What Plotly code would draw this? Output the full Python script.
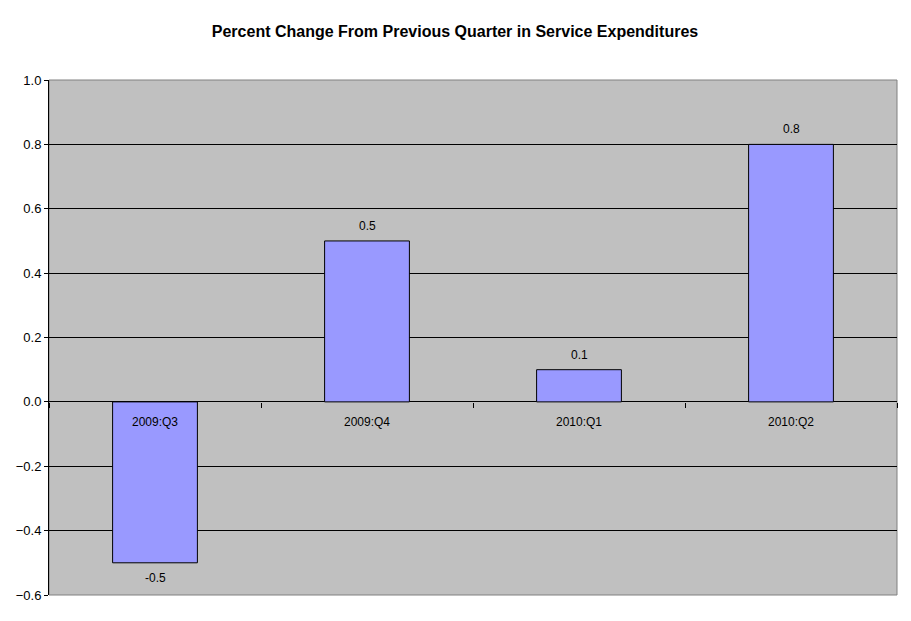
import plotly.graph_objects as go

categories = ["2009:Q3", "2009:Q4", "2010:Q1", "2010:Q2"]
values = [-0.5, 0.5, 0.1, 0.8]
y_ticks = [-0.6, -0.4, -0.2, 0.0, 0.2, 0.4, 0.6, 0.8, 1.0]

# page body has an 8px margin, so the figure is sized/offset to compensate
W, H = 903, 613

fig = go.Figure()
fig.add_trace(go.Bar(
    x=categories, y=values,
    width=0.4,
    marker=dict(color="#9999FF", line=dict(color="black", width=1)),
    hoverinfo="skip",
))

# value labels above/below bars
for c, v in zip(categories, values):
    fig.add_annotation(x=c, y=v, text=f"{v:.1f}", showarrow=False,
                       yshift=15 if v >= 0 else -15,
                       font=dict(family="Arial, Liberation Sans", size=12, color="black"))

fig.update_layout(
    width=W, height=H,
    margin=dict(l=41, r=14, t=72, b=26),
    paper_bgcolor="white",
    plot_bgcolor="#C0C0C0",
    showlegend=False,
    title=dict(text="<b>Percent Change From Previous Quarter in Service Expenditures</b>",
               x=(455 - 8) / W, xanchor="center", y=1 - 23 / H, yanchor="middle",
               font=dict(family="Arial, Liberation Sans", size=16, color="black")),
    font=dict(family="Arial, Liberation Sans", size=12, color="black"),
    xaxis=dict(
        type="category",
        range=[-0.5, 3.5],
        anchor="free",
        position=0.375,
        automargin=False,
        showline=False,
        ticks="outside", tickson="boundaries", ticklen=5, tickcolor="black",
        ticklabelstandoff=11,
        showgrid=False,
        tickfont=dict(size=12, color="black"),
    ),
    yaxis=dict(
        range=[-0.6, 1.0],
        domain=[0, 1],
        automargin=False,
        tickvals=y_ticks,
        tickformat=".1f",
        showline=True, linecolor="black", linewidth=1,
        ticks="outside", ticklen=4, tickcolor="black",
        showgrid=True, gridcolor="black", gridwidth=1,
        zeroline=False,
        tickfont=dict(size=13, color="black"),
    ),
)

fig.add_shape(type="rect", xref="paper", yref="paper", x0=0, x1=1, y0=0, y1=1,
              line=dict(color="#808080", width=1), layer="below")

fig.write_html("out.html")
